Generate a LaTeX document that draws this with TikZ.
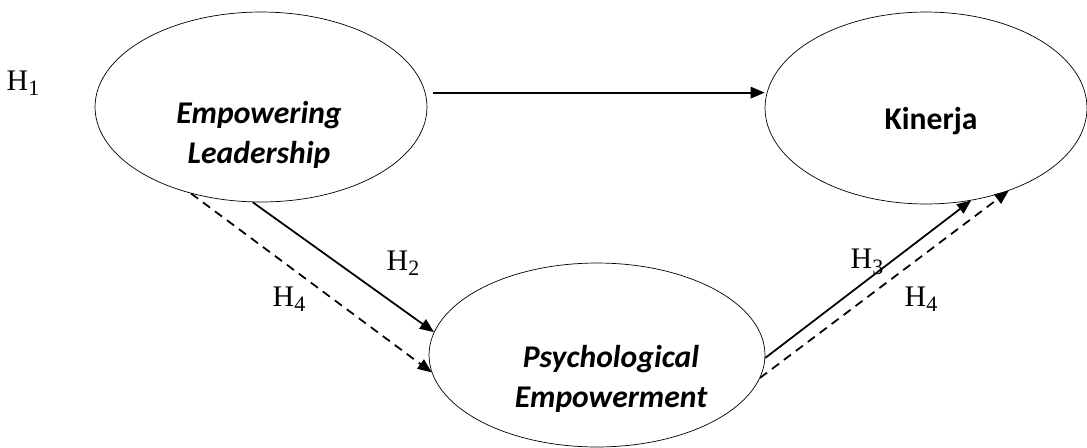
\documentclass[tikz,border=0pt]{standalone}
\usepackage{fontspec}
\setmainfont{Liberation Serif}
\newfontfamily\calibri{Carlito}
\usepackage{tikz}
\usetikzlibrary{arrows.meta, positioning, shapes.geometric, calc}

% hypothesis label with a large, slightly lowered index
\newcommand{\hypo}[1]{H\raisebox{-0.18em}{\fontsize{12.5}{14}\selectfont #1}}

\begin{document}
\begin{tikzpicture}[
    x=0.02cm, y=-0.02cm,
    latent/.style={draw, ellipse, thin, inner sep=0pt},
    construct/.style={align=center, font=\calibri\bfseries\fontsize{18}{23}\selectfont},
    itconstruct/.style={align=center, font=\calibri\bfseries\itshape\fontsize{18}{23}\selectfont},
    hyp/.style={font=\fontsize{17}{20}\selectfont, inner sep=1pt},
    arrow/.style={-{Triangle[length=8pt, width=6.5pt]}, line width=1pt},
    dasharrow/.style={arrow, dash pattern=on 5pt off 3.5pt}
]
    \useasboundingbox (0,0) rectangle (1087,447);

    % Constructs
    \node[latent, minimum width=6.64cm, minimum height=3.8cm] (el) at (261,107) {};
    \node[latent, minimum width=6.44cm, minimum height=3.84cm] (kin) at (926,108) {};
    \node[latent, minimum width=6.72cm, minimum height=3.68cm] (pe) at (597,355) {};

    \node[itconstruct] (el-txt) at (259,135) {Empowering\\Leadership};
    \node[construct] (kin-txt) at (931,121) {Kinerja};
    \node[itconstruct] (pe-txt) at (611,379) {Psychological\\Empowerment};

    % Paths
    \draw[arrow, shorten <=4.5pt] (el.5) -- (el.5 -| kin.west);
    \draw[arrow] (el.-95) -- (pe.172);
    \draw[dasharrow] (el.-129) -- (pe.-174);
    \draw[arrow] (pe.-1) -- (kin.-64);
    \draw[dasharrow] (pe.-8) -- (kin.-45);

    % Hypotheses
    \node[hyp] (h1) at (23,83) {\hypo{1}};
    \node[hyp] (h2) at (403,263) {\hypo{2}};
    \node[hyp] (h4a) at (289,299) {\hypo{4}};
    \node[hyp] (h3) at (867,262) {\hypo{3}};
    \node[hyp] (h4b) at (921,299) {\hypo{4}};
\end{tikzpicture}
\end{document}
